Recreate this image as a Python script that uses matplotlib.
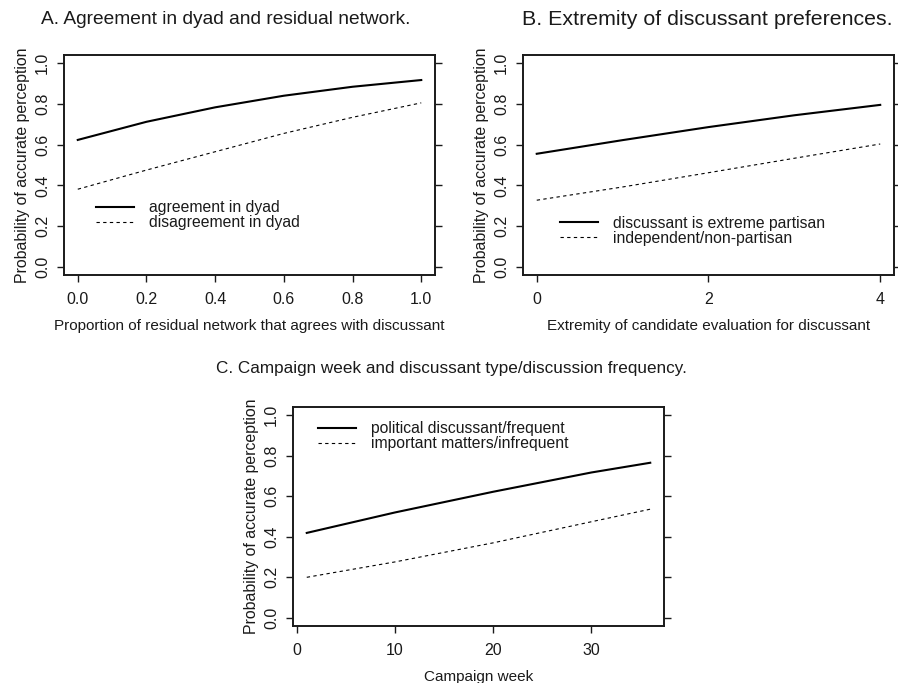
import matplotlib
matplotlib.use("Agg")
import matplotlib.pyplot as plt

plt.rcParams['font.family'] = ['Liberation Sans', 'DejaVu Sans']

# Panel A: proporción de la red residual que coincide con el interlocutor
a_x = [0.0, 0.2, 0.4, 0.6, 0.8, 1.0]
a_agree = [0.623, 0.712, 0.783, 0.840, 0.884, 0.917]
a_disagree = [0.381, 0.475, 0.565, 0.655, 0.734, 0.805]

# Panel B: extremidad de la evaluación del candidato
b_x = [0, 1, 2, 3, 4]
b_extreme = [0.555, 0.622, 0.686, 0.744, 0.795]
b_indep = [0.327, 0.392, 0.462, 0.533, 0.603]

# Panel C: semana de campaña
c_x = [1, 10, 20, 30, 36]
c_political = [0.419, 0.520, 0.622, 0.717, 0.765]
c_important = [0.200, 0.276, 0.370, 0.474, 0.536]

yticks = [0.0, 0.2, 0.4, 0.6, 0.8, 1.0]
ink = "#1a1a1a"


def style_axes(ax, xticks, xticklabels, xlim):
    ax.set_xlim(*xlim)
    ax.set_ylim(-0.04, 1.04)
    ax.set_xticks(xticks)
    ax.set_xticklabels(xticklabels, fontsize=11.5, color=ink)
    ax.set_yticks(yticks)
    ax.set_yticklabels([f"{v:.1f}" for v in yticks], fontsize=11.5, rotation=90,
                       va="center", color=ink)
    ax.tick_params(axis="both", direction="out", length=5, width=1.0, color=ink)
    ax.tick_params(axis="y", right=True, labelright=False)
    ax.tick_params(axis="x", pad=7)
    ax.tick_params(axis="y", pad=5)
    for s in ax.spines.values():
        s.set_linewidth(1.4)
        s.set_color(ink)
    ax.set_ylabel("Probability of accurate perception", fontsize=11.4, color=ink, labelpad=4)


def add_lines(ax, x, y1, y2, l1, l2, anchor):
    ax.plot(x, y1, color="black", lw=1.5, label=l1)
    ax.plot(x, y2, color="black", lw=0.8, dashes=(3, 3), label=l2)
    ax.legend(loc="upper left", bbox_to_anchor=anchor, frameon=False, fontsize=11.3,
              handlelength=2.4, handletextpad=1.0, labelspacing=0.0, borderpad=0,
              borderaxespad=0, labelcolor=ink)


fig = plt.figure(figsize=(8.98, 6.83), dpi=100)

axA = fig.add_axes([0.0713, 0.5974, 0.4131, 0.3221])
add_lines(axA, a_x, a_agree, a_disagree, "agreement in dyad", "disagreement in dyad", (0.086, 0.34))
style_axes(axA, yticks, [f"{v:.1f}" for v in yticks], (-0.04, 1.04))
axA.set_xlabel("Proportion of residual network that agrees with discussant", fontsize=11,
               color=ink, labelpad=9)

axB = fig.add_axes([0.5824, 0.5974, 0.4131, 0.3221])
add_lines(axB, b_x, b_extreme, b_indep, "discussant is extreme partisan", "independent/non-partisan",
          (0.10, 0.27))
style_axes(axB, [0, 2, 4], ["0", "2", "4"], (-0.16, 4.16))
axB.set_xlabel("Extremity of candidate evaluation for discussant", fontsize=11,
               color=ink, labelpad=9)

axC = fig.add_axes([0.3263, 0.0835, 0.4131, 0.3206])
add_lines(axC, c_x, c_political, c_important, "political discussant/frequent",
          "important matters/infrequent", (0.067, 0.935))
style_axes(axC, [0, 10, 20, 30], ["0", "10", "20", "30"], (-0.4, 37.4))
axC.set_xlabel("Campaign week", fontsize=11, color=ink, labelpad=9)

fig.text(0.251, 0.971, "A. Agreement in dyad and residual network.", ha="center", va="center",
         fontsize=13.8, color=ink)
fig.text(0.788, 0.971, "B. Extremity of discussant preferences.", ha="center", va="center",
         fontsize=15.4, color=ink)
fig.text(0.503, 0.461, "C. Campaign week and discussant type/discussion frequency.",
         ha="center", va="center", fontsize=12.3, color=ink)

fig.savefig("out.png", dpi=100)
